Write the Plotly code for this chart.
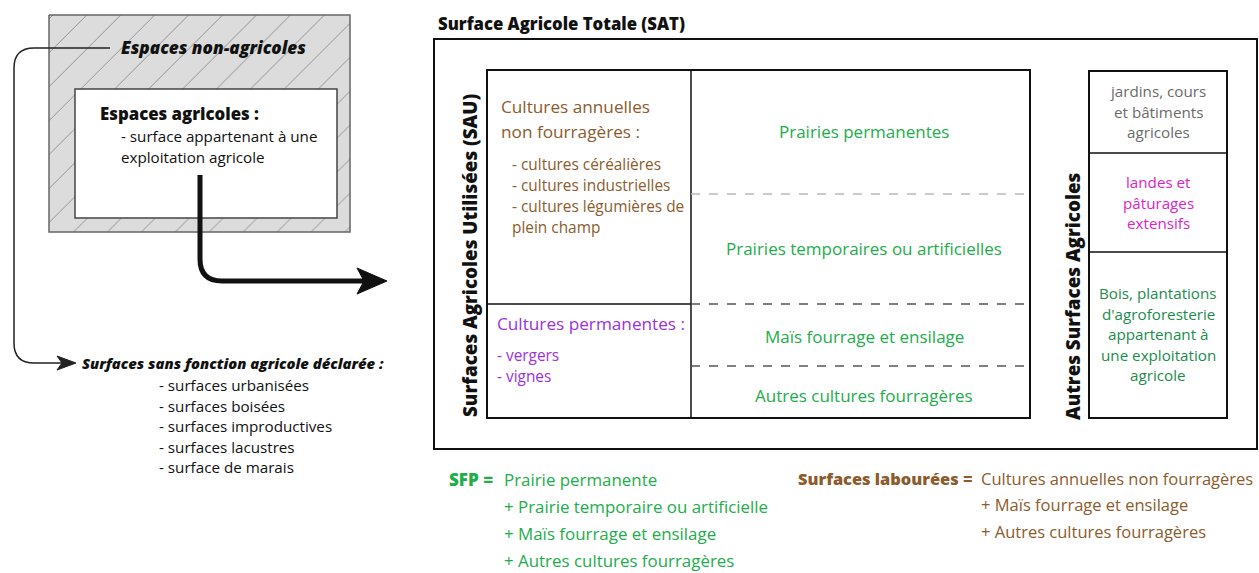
import plotly.graph_objects as go

W, H = 1259, 573
FONT = "Open Sans"

# ---- text content ----
outer_title = "Espaces non-agricoles"
agri_title = "Espaces agricoles :"
agri_lines = ["- surface appartenant à une", "exploitation agricole"]
non_agri_title = "Surfaces sans fonction agricole déclarée :"
non_agri_items = ["- surfaces urbanisées", "- surfaces boisées", "- surfaces improductives",
                  "- surfaces lacustres", "- surface de marais"]
sat_title = "Surface Agricole Totale (SAT)"
sau_label = "Surfaces Agricoles Utilisées (SAU)"
asa_label = "Autres Surfaces Agricoles"
annual_title = ["Cultures annuelles", "non fourragères :"]
annual_items = ["- cultures céréalières", "- cultures industrielles", "- cultures légumières de", "plein champ"]
perm_title = "Cultures permanentes :"
perm_items = ["- vergers", "- vignes"]
forage_labels = ["Prairies permanentes", "Prairies temporaires ou artificielles",
                 "Maïs fourrage et ensilage", "Autres cultures fourragères"]
asa_cells = [["jardins, cours", "et bâtiments", "agricoles"],
             ["landes et", "pâturages", "extensifs"],
             ["Bois, plantations", "d'agroforesterie", "appartenant à", "une exploitation", "agricole"]]
sfp_head = "SFP ="
sfp_terms = ["Prairie permanente", "+ Prairie temporaire ou artificielle",
             "+ Maïs fourrage et ensilage", "+ Autres cultures fourragères"]
lab_head = "Surfaces labourées ="
lab_terms = ["Cultures annuelles non fourragères", "+ Maïs fourrage et ensilage",
             "+ Autres cultures fourragères"]

# ---- colours ----
BROWN = "#8d5b2c"
GREEN = "#22ad4b"
DKGREEN = "#1d8c4c"
PURPLE = "#9b31e0"
MAGENTA = "#e022c8"
GREY = "#6b6b6b"
BLACK = "#111111"

fig = go.Figure()

# hatched "non-agricultural" box
fig.add_trace(go.Scatter(
    x=[49, 350, 350, 49, 49], y=[15, 15, 232, 232, 15], mode="lines",
    fill="toself", fillcolor="#dcdcdc",
    fillpattern=dict(shape="/", fgcolor="#444444", bgcolor="#dcdcdc", size=24, solidity=0.04),
    line=dict(color="#666666", width=1.5), hoverinfo="skip", showlegend=False))

shapes = []
def rect(x0, y0, x1, y1, color=BLACK, width=2, fill=None):
    shapes.append(dict(type="rect", x0=x0, y0=y0, x1=x1, y1=y1, xref="x", yref="y",
                       line=dict(color=color, width=width),
                       fillcolor=fill if fill else "rgba(0,0,0,0)"))
def line(x0, y0, x1, y1, color=BLACK, width=1.5, dash="solid"):
    shapes.append(dict(type="line", x0=x0, y0=y0, x1=x1, y1=y1, xref="x", yref="y",
                       line=dict(color=color, width=width, dash=dash)))
def path(p, color=BLACK, width=1.5, fill=None):
    shapes.append(dict(type="path", path=p, xref="x", yref="y",
                       line=dict(color=color, width=width),
                       fillcolor=fill if fill else "rgba(0,0,0,0)"))

# inner agricultural box
rect(75, 89, 337, 218, color="#444444", width=1.5, fill="white")

# thin connector arrow
path("M 110 48 H 34 Q 14 48 14 68 V 343 Q 14 363 34 363 H 64", color="#222222", width=1.5)
path("M 76 363 L 57 356 L 62 363 L 57 370 Z", color="#222222", width=1, fill="#222222")

# thick arrow
path("M 200 175 V 259 Q 200 281 222 281 H 364", color="#111111", width=5)
path("M 387 281 L 357 268 L 364 281 L 357 294 Z", color="#111111", width=1, fill="#111111")

# SAT box
rect(434, 39, 1257, 449, color=BLACK, width=2)
# SAU box
rect(487, 70, 1030, 418, color=BLACK, width=2)
line(691, 70, 691, 418, width=1.5)
line(487, 304, 691, 304, width=1.5)
line(691, 194, 1030, 194, color="#bbbbbb", width=1.3, dash="dash")
line(691, 304, 1030, 304, color="#555555", width=1.5, dash="dash")
line(691, 366, 1030, 366, color="#555555", width=1.5, dash="dash")
# ASA box
rect(1089, 71, 1227, 418, color=BLACK, width=2)
line(1089, 153, 1227, 153, width=1.5)
line(1089, 252, 1227, 252, width=1.5)

ann = []
def txt(x, y, s, size, color=BLACK, anchor="left", angle=0, bold=False, italic=False):
    ann.append(dict(x=x, y=y, xref="x", yref="y", text=s, showarrow=False,
                    xanchor=anchor, yanchor="middle", textangle=angle,
                    font=dict(family=FONT, size=size, color=color,
                              weight=800 if bold else 400,
                              style="italic" if italic else "normal")))

# left side
txt(308, 47, outer_title, 17.2, BLACK, "right", bold=True, italic=True)
txt(98, 113, agri_title, 16.8, BLACK, bold=True)
for i, s in enumerate(agri_lines):
    txt(119, 136 + 21 * i, s, 15.2, BLACK)
txt(80, 363, non_agri_title, 14.8, BLACK, bold=True, italic=True)
for i, s in enumerate(non_agri_items):
    txt(157, 385 + 20.6 * i, s, 15.2, BLACK)

# SAT
txt(436, 23, sat_title, 16.7, BLACK, bold=True)
txt(470, 256, sau_label, 18.8, BLACK, "center", -90, bold=True)
txt(1073, 297, asa_label, 18.8, BLACK, "center", -90, bold=True)

for i, s in enumerate(annual_title):
    txt(499, 106 + 25 * i, s, 17.2, BROWN)
for i, s in enumerate(annual_items):
    txt(510, 164 + 21 * i, s, 15.4, BROWN)
txt(495, 323, perm_title, 17.2, PURPLE)
for i, s in enumerate(perm_items):
    txt(495, 355 + 21 * i, s, 15.4, PURPLE)

for s, y in zip(forage_labels, [131, 248, 336, 395]):
    txt(864, y, s, 17, GREEN, "center")

asa_colors = [GREY, MAGENTA, DKGREEN]
asa_tops = [91, 182, 293]
for cell, c, y0 in zip(asa_cells, asa_colors, asa_tops):
    for j, s in enumerate(cell):
        txt(1158, y0 + 20.5 * j, s, 15.2, c, "center")

# formulas
txt(495, 479, sfp_head, 17, GREEN, "right", bold=True)
for i, s in enumerate(sfp_terms):
    txt(502, 479 + 27 * i, s, 16.9, GREEN)
txt(975, 478, lab_head, 16.4, BROWN, "right", bold=True)
for i, s in enumerate(lab_terms):
    txt(979, 478 + 26.5 * i, s, 16.5, BROWN)

fig.update_layout(
    width=W, height=H, autosize=False,
    margin=dict(l=0, r=0, t=0, b=0),
    paper_bgcolor="white", plot_bgcolor="white",
    xaxis=dict(range=[0, W], visible=False, fixedrange=True),
    yaxis=dict(range=[H, 0], visible=False, fixedrange=True),
    shapes=shapes, annotations=ann, showlegend=False,
)

fig.write_html("out.html", config={"displayModeBar": False},
               post_script="document.body.style.margin='0';")
